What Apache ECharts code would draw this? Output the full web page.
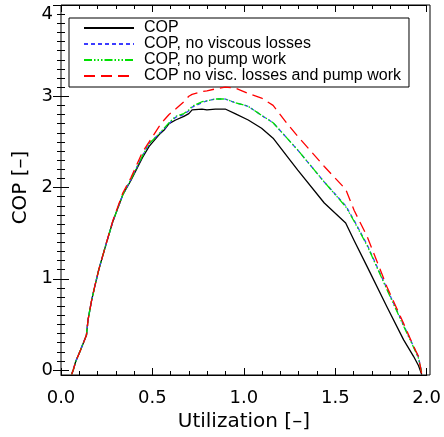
<!DOCTYPE html>
<html>
<head>
<meta charset="utf-8">
<script src="https://cdn.jsdelivr.net/npm/echarts@6/dist/echarts.min.js"></script>
<style>html,body{margin:0;padding:0;background:#fff}#c{width:444px;height:437px}</style>
</head>
<body>
<div id="c"></div>
<script>
// Utilization values (shared x grid)
var utilization = [0.058,0.067,0.080,0.107,0.139,0.148,0.166,0.184,0.208,0.248,0.284,0.338,0.383,0.446,0.482,0.537,0.564,0.591,0.627,0.672,0.699,0.717,0.771,0.798,0.844,0.898,0.952,1.024,1.097,1.160,1.241,1.295,1.440,1.557,1.603,1.675,1.783,1.874,1.928,1.955,1.973];
var cop        = [-0.05,0.00,0.09,0.22,0.38,0.55,0.75,0.91,1.11,1.39,1.63,1.92,2.08,2.33,2.45,2.58,2.63,2.70,2.74,2.78,2.81,2.85,2.86,2.85,2.86,2.86,2.81,2.74,2.65,2.54,2.33,2.19,1.83,1.61,1.42,1.13,0.69,0.33,0.15,0.05,-0.05];
var copNoVisc  = [-0.05,0.00,0.09,0.22,0.38,0.55,0.75,0.91,1.11,1.39,1.63,1.92,2.09,2.35,2.48,2.59,2.64,2.70,2.77,2.80,2.84,2.88,2.93,2.95,2.97,2.97,2.93,2.89,2.79,2.71,2.53,2.41,2.06,1.80,1.64,1.37,0.89,0.49,0.26,0.14,-0.03];
var copNoPump  = [-0.05,0.00,0.09,0.22,0.38,0.55,0.75,0.91,1.11,1.39,1.63,1.92,2.09,2.35,2.48,2.59,2.65,2.71,2.78,2.81,2.85,2.89,2.94,2.95,2.97,2.97,2.93,2.89,2.79,2.71,2.53,2.41,2.06,1.79,1.63,1.36,0.88,0.48,0.25,0.13,-0.03];
var copNoBoth  = [-0.05,0.00,0.09,0.22,0.38,0.55,0.75,0.91,1.11,1.39,1.64,1.94,2.11,2.39,2.50,2.67,2.74,2.80,2.86,2.94,3.00,3.02,3.05,3.06,3.08,3.10,3.09,3.03,2.98,2.90,2.69,2.56,2.23,1.98,1.75,1.46,0.91,0.51,0.26,0.15,-0.05];
var seriesNames = ['COP','COP, no viscous losses','COP, no pump work','COP no visc. losses and pump work'];

function pairs(ys){ return utilization.map(function(x,i){ return [x, ys[i]]; }); }

var FONT = 'DejaVu Sans';
var chart = echarts.init(document.getElementById('c'), null, {renderer:'canvas'});
var lineAx = {show:true, onZero:false, lineStyle:{color:'#000', width:1}};

function xAx(pos, labels){
  return {
    type:'value', position:pos, min:0, max:2, interval:0.5, gridIndex:0,
    offset: labels ? 5 : 0,
    axisLine:lineAx,
    axisTick:{show:true, inside:true, length:7, lineStyle:{color:'#000'}},
    minorTick:{show:true, splitNumber:5, length:4, lineStyle:{color:'#000'}},
    splitLine:{show:false}, minorSplitLine:{show:false},
    axisLabel:{show:labels, fontFamily:FONT, fontSize:18, color:'#000', margin:14,
      formatter:function(v){ return v.toFixed(1); }},
    name: labels ? 'Utilization [–]' : '', nameLocation:'middle', nameGap:34,
    nameTextStyle:{fontFamily:FONT, fontSize:20, color:'#000'}
  };
}
function yAx(pos, labels){
  return {
    type:'value', position:pos, min:0, max:4, interval:1, gridIndex:0,
    axisLine:{show:false},
    axisTick:{show:true, inside:true, length:8, lineStyle:{color:'#000'}},
    minorTick:{show:true, splitNumber:10, length:4, lineStyle:{color:'#000'}},
    splitLine:{show:false}, minorSplitLine:{show:false},
    axisLabel:{show:labels, fontFamily:FONT, fontSize:18, color:'#000', margin:8,
      verticalAlignMaxLabel:'top'},
    name: labels ? 'COP [–]' : '', nameLocation:'middle', nameGap:28,
    nameTextStyle:{fontFamily:FONT, fontSize:20, color:'#000'}
  };
}

var styles = [
  {color:'#000000', type:'solid'},
  {color:'#3c3cff', type:[4,3]},
  {color:'#00e000', type:[8,2,1.5,2,1.5,2,1.5,2]},
  {color:'#ff0000', type:[11,6]}
];
var dataSets = [cop, copNoVisc, copNoPump, copNoBoth];

chart.setOption({
  animation:false,
  backgroundColor:'#fff',
  grid:[
    {left:61, right:14, top:5, bottom:67, containLabel:false},
    {left:61, right:14, top:5, bottom:62, containLabel:false, show:true, borderColor:'#000', borderWidth:1, backgroundColor:'transparent'}
  ],
  legend:{
    show:true, orient:'vertical', left:69, top:18,
    padding:[2,8,3,14], itemGap:0, itemWidth:50, itemHeight:14,
    borderColor:'#000', borderWidth:1, backgroundColor:'#fff',
    itemStyle:{opacity:0},
    textStyle:{fontFamily:'Liberation Sans', fontSize:16, color:'#000', padding:[0,0,0,5], lineHeight:14},
    data: seriesNames
  },
  xAxis:[xAx('bottom', true), xAx('top', false),
    {type:'value', gridIndex:1, show:false, min:0, max:2}],
  yAxis:[yAx('left', true), yAx('right', false),
    {type:'value', gridIndex:1, show:false, min:0, max:4}],
  series: dataSets.map(function(d,i){
    return {
      name:seriesNames[i], type:'line', data:pairs(d), xAxisIndex:0, yAxisIndex:0,
      symbol:'none', showSymbol:false, smooth:false, clip:false, z: (i===0?2:3+i),
      lineStyle:{color:styles[i].color, type:styles[i].type, width:1.3},
      itemStyle:{color:styles[i].color}
    };
  })
});
</script>
</body>
</html>
